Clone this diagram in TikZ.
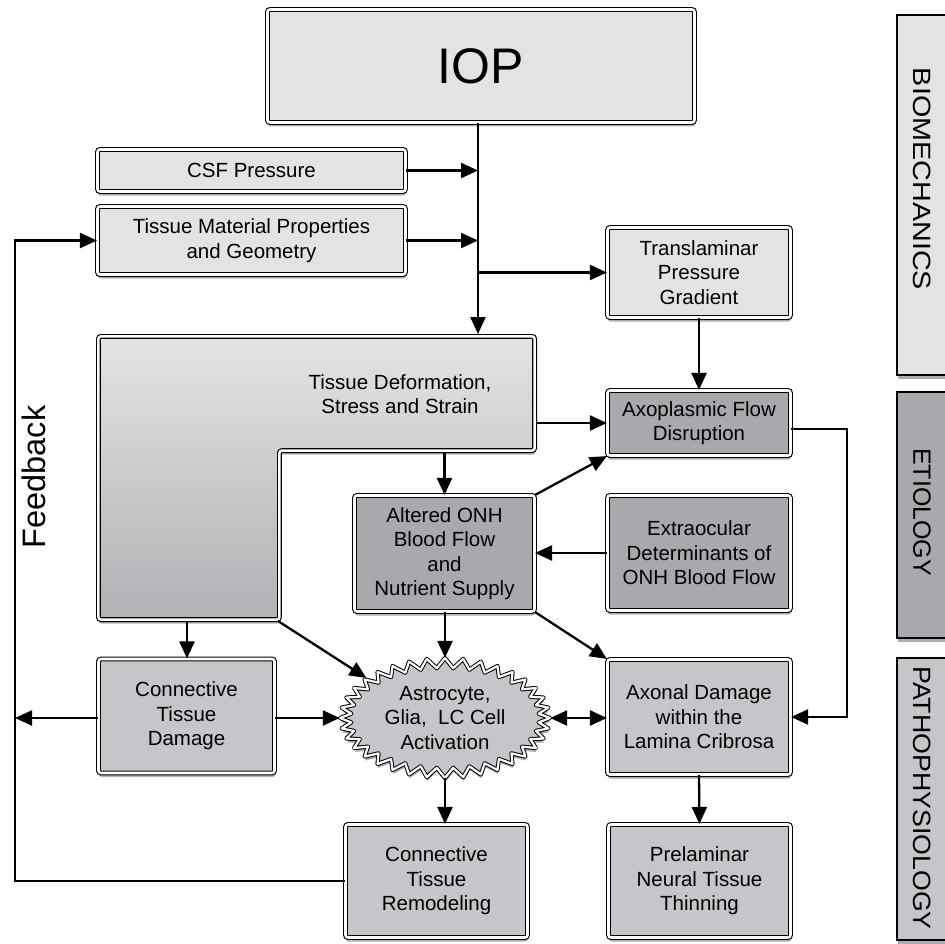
\documentclass[tikz,border=0pt]{standalone}
\usepackage{fontspec}
\usepackage{graphicx}
\setmainfont{Liberation Sans}
\usetikzlibrary{arrows.meta,shadows,shapes.geometric}
\definecolor{bioC}{HTML}{E3E3E3}
\definecolor{etiC}{HTML}{A8A9AC}
\definecolor{patC}{HTML}{C5C6C9}
\definecolor{Ltop}{HTML}{E4E4E4}
\definecolor{Lbot}{HTML}{B0B1B4}
\newcommand{\fsbox}{\fontsize{20.5}{24.5}\selectfont}
\begin{document}
\begin{tikzpicture}[x=1pt,y=-1pt,
  shad/.style={drop shadow={shadow xshift=0.5pt,shadow yshift=-4pt,opacity=0.32,fill=black}},
  bx/.style={draw=black,line width=1.1pt,double=white,double distance=2.6pt,rounded corners=2.5pt,
             align=center,font=\fsbox,inner sep=0pt,shad},
  bio/.style={bx,fill=bioC},
  eti/.style={bx,fill=etiC},
  pat/.style={bx,fill=patC},
  side/.style={draw=black,line width=2pt,shad},
  sidetxt/.style={rotate=-90,font=\fontsize{25}{30}\selectfont},
  conn/.style={draw=black,line width=2.3pt,-{Triangle[length=17pt,width=15pt]}},
  dconn/.style={draw=black,line width=2.3pt,{Triangle[length=17pt,width=15pt]}-{Triangle[length=17pt,width=15pt]}}
]
\useasboundingbox[fill=white] (0,0) rectangle (944,944);

% side category boxes
\path[side,fill=bioC] (897,15) rectangle (960,375);
\path[side,fill=etiC] (897,392) rectangle (960,638);
\path[side,fill=patC] (897,658) rectangle (960,940);
\node[sidetxt] (lbio) at (922,179) {\scalebox{1.15}[1]{BIOMECHANICS}};
\node[sidetxt] (leti) at (922,512) {ETIOLOGY};
\node[sidetxt] (lpat) at (922,798) {\scalebox{1.07}[1]{PATHOPHYSIOLOGY}};

% biomechanics boxes
\node[bio,minimum width=427pt,minimum height=113pt,font=\fontsize{50}{60}\selectfont] (iop) at (481,66) {IOP};
\node[bio,minimum width=308pt,minimum height=42pt] (csf) at (251.5,170.5) {CSF Pressure};
\node[bio,minimum width=308pt,minimum height=68pt] (tm) at (251.5,240.5) {Tissue Material Properties\\and Geometry};
\node[bio,minimum width=183pt,minimum height=90pt] (tpg) at (699,272.5) {Translaminar\\Pressure\\Gradient};

% L-shaped tissue deformation box
\draw[bx,top color=Ltop,bottom color=Lbot] (98.4,336.4) -- (534.6,336.4) -- (534.6,450.6) -- (279.4,450.6) -- (279.4,619.6) -- (98.4,619.6) -- cycle;
\node[align=center,font=\fsbox] (td) at (400,394) {Tissue Deformation,\\Stress and Strain};
\coordinate (ltop) at (478,334);
\coordinate (lre) at (537,423);
\coordinate (lbb) at (444.5,453);
\coordinate (lcb) at (187,622);
\coordinate (lcor) at (278,621);

% etiology boxes
\node[eti,minimum width=183pt,minimum height=65pt] (afd) at (699,423) {Axoplasmic Flow\\Disruption};
\node[eti,minimum width=180pt,minimum height=116pt] (onh) at (444.5,553.5) {Altered ONH\\Blood Flow\\and\\Nutrient Supply};
\node[eti,minimum width=183pt,minimum height=115pt] (ext) at (699,553) {Extraocular\\Determinants of\\ONH Blood Flow};

% pathophysiology boxes
\node[pat,minimum width=176pt,minimum height=114pt] (ctd) at (186.5,716) {Connective\\Tissue\\Damage};
\node[pat,minimum width=183pt,minimum height=115pt] (axd) at (699,717) {Axonal Damage\\within the\\Lamina Cribrosa};
\node[pat,minimum width=182pt,minimum height=113pt] (ctr) at (436.5,881) {Connective\\Tissue\\Remodeling};
\node[pat,minimum width=182pt,minimum height=113pt] (pnt) at (699.5,881) {Prelaminar\\Neural Tissue\\Thinning};

% starburst
\draw[draw=black,line width=1pt,double=white,double distance=2.2pt,line join=round,fill=patC,shad]
  (550,718) \foreach \i in {1,...,71} { -- ({445+(isodd(\i)?94:105)*cos(\i*5)},{718-(isodd(\i)?50:60)*sin(\i*5)}) } -- cycle;
\node[ellipse,minimum width=210pt,minimum height=120pt,inner sep=0pt,align=center,font=\fsbox] (act) at (445,718) {Astrocyte,\\Glia,\ \ LC Cell\\Activation};

% feedback
\coordinate (fb) at (15,0);
\node[rotate=90,font=\fontsize{32.5}{38}\selectfont] (fbt) at (34,477) {Feedback};

% connectors
\draw[conn] (iop.south -| ltop) -- (ltop);
\draw[conn] (csf.east) -- (csf.east -| ltop);
\draw[conn] (tm.east) -- (tm.east -| ltop);
\draw[conn] (tpg.west -| ltop) -- (tpg.west);
\draw[conn] (tpg.south) -- (afd.north);
\draw[conn] (lre) -- (lre -| afd.west);
\draw[conn] (lbb) -- (onh.north);
\draw[conn] (onh.north east) -- (afd.south west);
\draw[conn] (ext.west) -- (ext.west -| onh.east);
\draw[conn] (onh.south -| act.north) -- (act.north);
\draw[conn] (onh.south east) -- (axd.north west);
\draw[conn] (lcb) -- (lcb |- ctd.north);
\draw[conn] (lcor) -- (act.153);
\draw[conn] (act.west -| ctd.east) -- (act.west);
\draw[conn] (ctd.west |- act.west) -- (fb |- act.west);
\draw[dconn] (act.east) -- (act.east -| axd.west);
\draw[conn] (act.south) -- (act.south |- ctr.north);
\draw[conn] (axd.south) -- (pnt.north);
\coordinate (rr) at (847,0);
\draw[conn] ([yshift=-6pt]afd.east) -| (rr |- axd.east) -- (axd.east);
\draw[conn] (ctr.west) -- (fb |- ctr.west) -- (fb |- tm.west) -- (tm.west);
\end{tikzpicture}
\end{document}
